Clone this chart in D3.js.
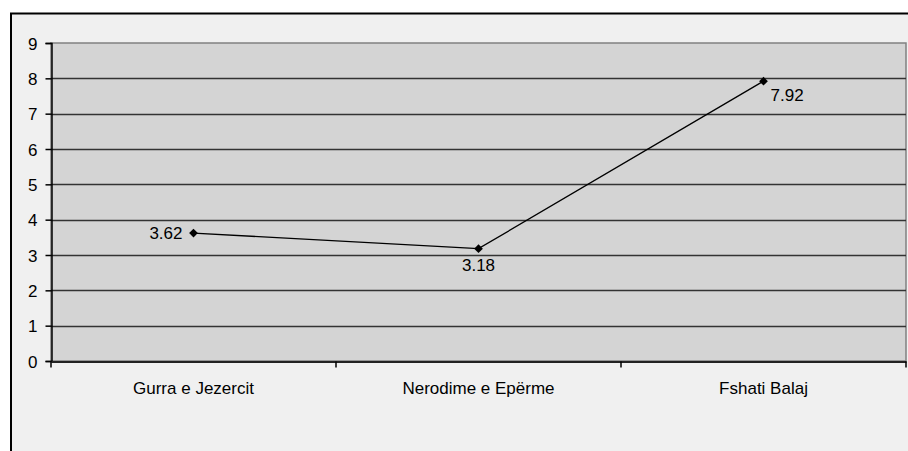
<!DOCTYPE html>
<html><head><meta charset="utf-8">
<script src="https://cdn.jsdelivr.net/npm/d3@7"></script>
<style>html,body{margin:0;padding:0;background:#fff;overflow:hidden}svg{display:block;font-family:"Liberation Sans",Arial,sans-serif}</style>
</head><body>
<script>
const categories = ["Gurra e Jezercit", "Nerodime e Epërme", "Fshati Balaj"];
const values = [3.62, 3.18, 7.92];
const labels = ["3.62", "3.18", "7.92"];
const yTicks = [0, 1, 2, 3, 4, 5, 6, 7, 8, 9];

(function () {
const W = 908, H = 451, FS = 17;
const FONT = "Liberation Sans, Arial, sans-serif";
const svg = d3.select("body").append("svg").attr("width", W).attr("height", H);
svg.append("rect").attr("x", 11).attr("y", 13.5).attr("width", 1000).attr("height", 1000)
  .attr("fill", "#f0f0f0").attr("stroke", "#000").attr("stroke-width", 2);

const pL = 51, pR = 906, pT = 43, pB = 361;
const x = d3.scaleBand().domain(categories).range([pL, pR]);
const y = d3.scaleLinear().domain([0, 9]).range([pB, pT]);

svg.append("rect").attr("x", pL).attr("y", pT).attr("width", pR - pL).attr("height", pB - pT)
  .attr("fill", "#d4d4d4").attr("stroke", "#808080").attr("stroke-width", 1.5);

svg.append("g").selectAll("line").data(yTicks.filter(d => d > 0 && d < 9)).join("line")
  .attr("x1", pL).attr("x2", pR).attr("y1", d => Math.round(y(d)) + 0.5).attr("y2", d => Math.round(y(d)) + 0.5)
  .attr("stroke", "#333").attr("stroke-width", 1.6);

const yAxis = d3.axisLeft(y).tickValues(yTicks).tickSize(6).tickPadding(8).tickFormat(d3.format("d"));
const gy = svg.append("g").attr("transform", `translate(${pL + 0.5},0)`).call(yAxis);
gy.select(".domain").attr("stroke", "#000").attr("stroke-width", 1.5);
gy.selectAll(".tick line").attr("stroke", "#000").attr("stroke-width", 1.5);
gy.selectAll(".tick text").attr("font-size", FS).attr("fill", "#000").attr("font-family", FONT).attr("dy", "0.36em");

const xAxis = d3.axisBottom(x).tickSize(0).tickPadding(20);
const gx = svg.append("g").attr("transform", `translate(0,${pB + 0.5})`).call(xAxis);
gx.select(".domain").attr("stroke", "#222").attr("stroke-width", 2);
gx.selectAll(".tick text").attr("font-size", FS).attr("fill", "#000").attr("font-family", FONT);
const bounds = [0, 1, 2, 3];
gx.selectAll(".btick").data(bounds).join("line").attr("class", "btick")
  .attr("x1", i => pL + i * x.step()).attr("x2", i => pL + i * x.step())
  .attr("y1", 0).attr("y2", 6).attr("stroke", "#000").attr("stroke-width", 1.5);

const pts = categories.map((c, i) => [x(c) + x.bandwidth() / 2, y(values[i])]);
svg.append("path").attr("d", d3.line()(pts)).attr("fill", "none").attr("stroke", "#000").attr("stroke-width", 1.3);
svg.append("g").selectAll("path").data(pts).join("path")
  .attr("d", d3.symbol(d3.symbolSquare, 38)).attr("transform", d => `translate(${d[0]},${d[1]}) rotate(45)`).attr("fill", "#000");

const offs = [{dx: -11, dy: 6, a: "end"}, {dx: 0, dy: 22, a: "middle"}, {dx: 7, dy: 20, a: "start"}];
svg.append("g").selectAll("text").data(pts).join("text")
  .attr("x", (d, i) => d[0] + offs[i].dx).attr("y", (d, i) => d[1] + offs[i].dy)
  .attr("text-anchor", (d, i) => offs[i].a).attr("font-size", FS).attr("fill", "#000").attr("font-family", FONT)
  .text((d, i) => labels[i]);
})();
</script>
</body></html>
